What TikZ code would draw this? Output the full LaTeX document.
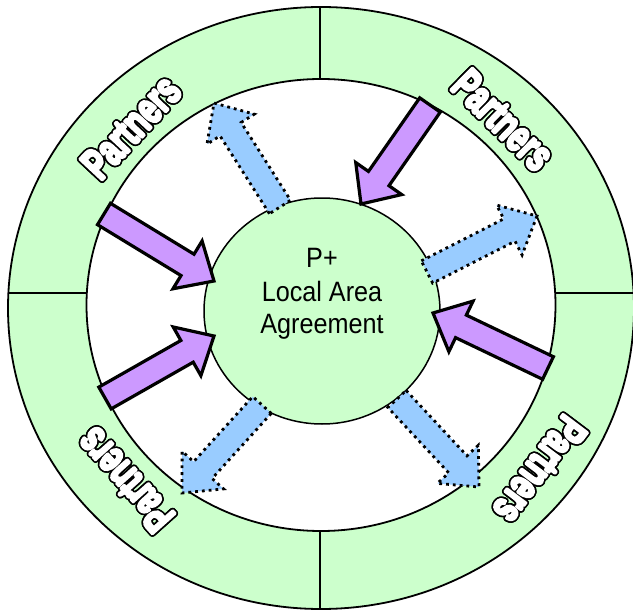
\documentclass[tikz,border=0pt]{standalone}
\usepackage{fontspec}
\setmainfont{Liberation Sans}
\usetikzlibrary{calc}
\definecolor{ringgreen}{HTML}{CCFFCC}
\definecolor{inpurple}{HTML}{CC99FF}
\definecolor{outblue}{HTML}{99CCFF}

% block arrow from a tail coordinate to a tip coordinate
\newcommand\blockarrow[4]{% style, tail, tip, prefix
  \coordinate (#4-neck) at ($(#3)!31pt!(#2)$);
  \draw[#1] ($(#2)!12.5pt!90:(#3)$) -- ($(#4-neck)!12.5pt!90:(#3)$)
    -- ($(#4-neck)!28pt!90:(#3)$) -- (#3)
    -- ($(#4-neck)!28pt!-90:(#3)$) -- ($(#4-neck)!12.5pt!-90:(#3)$)
    -- ($(#2)!12.5pt!-90:(#3)$) -- cycle;
}

% text drawn in fill+stroke render mode: colour, stroke width, text
\newcommand\strokedword[3]{%
  \textcolor{#1}{\special{pdf:literal direct 2 Tr #2 w 1 j}#3\special{pdf:literal direct 0 Tr}}}

% heavy white lettering with a black rim built from shifted copies
\newcommand\partnerslabel[3]{% name, position, rotation
  \foreach \k in {0,22.5,...,337.5}
    \node[partners, rotate=#3] at ($(#2)+(\k:2)$) {\scalebox{0.68}[1]{\strokedword{black}{2.4}{Partners}}};
  \node[partners, rotate=#3] (#1) at (#2) {\scalebox{0.68}[1]{\strokedword{white}{3.2}{Partners}}};
}

\begin{document}
\begin{tikzpicture}[x=1pt,y=-1pt,
  ring/.style={draw=black, line width=1.8pt},
  divider/.style={draw=black, line width=1.8pt},
  inarrow/.style={fill=inpurple, draw=black, line width=3.2pt, line join=miter},
  outarrow/.style={fill=outblue, draw=black, line width=2.8pt, dash pattern=on 2.8pt off 4pt},
  partners/.style={font=\fontsize{44}{44}\selectfont\bfseries, inner sep=0pt},
  centretext/.style={font=\fontsize{28}{28}\selectfont, anchor=base, inner sep=0pt}]
\clip (0,0) rectangle (633,613);
\fill[white] (0,0) rectangle (633,613);

% outer ring and its inner opening
\draw[ring, fill=ringgreen] (321,308) ellipse [x radius=313, y radius=301];
\draw[ring, fill=white] (321,305) ellipse [x radius=234.5, y radius=226];

% ring dividers
\draw[divider] (320,7) -- (320,79);
\draw[divider] (320,531) -- (320,609);
\draw[divider] (8.4,293) -- (86.8,293);
\draw[divider] (555.2,293) -- (640,293);

% centre disc
\draw[ring, line width=1.5pt, fill=ringgreen] (322,311) ellipse [x radius=118, y radius=113];
\node[centretext] (ctitle1) at (322,267) {\scalebox{0.9}[1]{P+}};
\node[centretext] (ctitle2) at (322,301) {\scalebox{0.9}[1]{Local Area}};
\node[centretext] (ctitle3) at (322,333) {\scalebox{0.9}[1]{Agreement}};

% ring labels
\partnerslabel{lblNW}{131,127}{47}
\partnerslabel{lblNE}{503,120}{-44.5}
\partnerslabel{lblSW}{125,480}{131.8}
\partnerslabel{lblSE}{540,470}{-127}

% arrow end points
\coordinate (p1t) at (104,214); \coordinate (p1h) at (214,281);
\coordinate (p2t) at (105,398); \coordinate (p2h) at (214,336);
\coordinate (p3t) at (430,105); \coordinate (p3h) at (361,204);
\coordinate (p4t) at (548,368); \coordinate (p4h) at (433,313);
\coordinate (b1t) at (280,207); \coordinate (b1h) at (214,103);
\coordinate (b2t) at (427,272); \coordinate (b2h) at (537,216);
\coordinate (b3t) at (262,405); \coordinate (b3h) at (182,493);
\coordinate (b4t) at (397,399); \coordinate (b4h) at (479,487);

% inward arrows
\blockarrow{inarrow}{p1t}{p1h}{pa}
\blockarrow{inarrow}{p2t}{p2h}{pb}
\blockarrow{inarrow}{p3t}{p3h}{pc}
\blockarrow{inarrow}{p4t}{p4h}{pd}

% outward arrows
\blockarrow{outarrow}{b1t}{b1h}{ba}
\blockarrow{outarrow}{b2t}{b2h}{bb}
\blockarrow{outarrow}{b3t}{b3h}{bc}
\blockarrow{outarrow}{b4t}{b4h}{bd}
\end{tikzpicture}
\end{document}
